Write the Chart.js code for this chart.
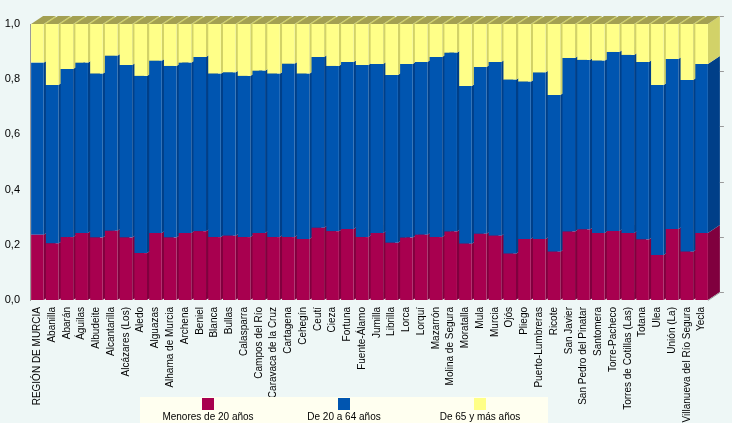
<!DOCTYPE html>
<html>
<head>
<meta charset="utf-8">
<script src="https://cdn.jsdelivr.net/npm/chart.js@4/dist/chart.umd.min.js"></script>
<style>
  html, body { margin: 0; padding: 0; background: #eef7f6; }
  canvas { display: block; }
</style>
</head>
<body>
<canvas id="grafico" width="732" height="423"></canvas>
<script>
// municipios
const municipios = [
  "REGIÓN DE MURCIA", "Abanilla", "Abarán", "Águilas", "Albudeite", "Alcantarilla",
  "Alcázares (Los)", "Aledo", "Alguazas", "Alhama de Murcia", "Archena", "Beniel",
  "Blanca", "Bullas", "Calasparra", "Campos del Río", "Caravaca de la Cruz", "Cartagena",
  "Cehegín", "Ceutí", "Cieza", "Fortuna", "Fuente-Álamo", "Jumilla", "Librilla", "Lorca",
  "Lorquí", "Mazarrón", "Molina de Segura", "Moratalla", "Mula", "Murcia", "Ojós",
  "Pliego", "Puerto-Lumbreras", "Ricote", "San Javier", "San Pedro del Pinatar",
  "Santomera", "Torre-Pacheco", "Torres de Cotillas (Las)", "Totana", "Ulea",
  "Unión (La)", "Villanueva del Río Segura", "Yecla"
];

// proporciones por grupo de edad
const menores20 = [
  0.236, 0.205, 0.228, 0.243, 0.226, 0.251, 0.226, 0.170, 0.243, 0.226, 0.243, 0.249,
  0.228, 0.233, 0.228, 0.243, 0.228, 0.228, 0.221, 0.262, 0.249, 0.257, 0.228, 0.243,
  0.207, 0.226, 0.236, 0.228, 0.248, 0.204, 0.240, 0.233, 0.168, 0.221, 0.221, 0.175,
  0.248, 0.255, 0.243, 0.250, 0.243, 0.219, 0.163, 0.257, 0.175, 0.243
];
const de20a64 = [
  0.624, 0.574, 0.609, 0.617, 0.594, 0.634, 0.625, 0.642, 0.624, 0.622, 0.617, 0.631,
  0.592, 0.591, 0.584, 0.588, 0.592, 0.628, 0.599, 0.618, 0.599, 0.605, 0.623, 0.612,
  0.608, 0.629, 0.626, 0.652, 0.648, 0.571, 0.604, 0.629, 0.630, 0.570, 0.603, 0.568,
  0.629, 0.615, 0.624, 0.649, 0.645, 0.643, 0.616, 0.616, 0.622, 0.612
];
const de65 = [
  0.140, 0.221, 0.163, 0.140, 0.180, 0.115, 0.149, 0.188, 0.133, 0.152, 0.140, 0.120,
  0.180, 0.176, 0.188, 0.169, 0.180, 0.144, 0.180, 0.120, 0.152, 0.138, 0.149, 0.145,
  0.185, 0.145, 0.138, 0.120, 0.104, 0.225, 0.156, 0.138, 0.202, 0.209, 0.176, 0.257,
  0.123, 0.130, 0.133, 0.101, 0.112, 0.138, 0.221, 0.127, 0.203, 0.145
];
const yTicks = [0, 0.2, 0.4, 0.6, 0.8, 1.0];

const colores = ["#a8004f", "#0055b0", "#ffff88"];
const coloresLado = ["#80003e", "#003f88", "#d2d268"];
const colorTapa = "#a3a052";
const PROF_X = 12, PROF_Y = 8;

// caras laterales y superiores (efecto 3D)
const barras3d = {
  id: "barras3d",
  beforeDatasetsDraw(chart) {
    const ctx = chart.ctx;
    const n = chart.data.datasets.length;
    const metas = [];
    for (let k = 0; k < n; k++) metas.push(chart.getDatasetMeta(k));
    ctx.save();
    for (let i = 0; i < chart.data.labels.length; i++) {
      for (let k = 0; k < n; k++) {
        const el = metas[k].data[i];
        const p = el.getProps(["x", "y", "base", "width"], true);
        const l = p.x - p.width / 2, r = p.x + p.width / 2;
        ctx.fillStyle = coloresLado[k];
        ctx.beginPath();
        ctx.moveTo(r, p.y);
        ctx.lineTo(r + PROF_X, p.y - PROF_Y);
        ctx.lineTo(r + PROF_X, p.base - PROF_Y);
        ctx.lineTo(r, p.base);
        ctx.closePath();
        ctx.fill();
        if (k == n - 1) {
          ctx.fillStyle = colorTapa;
          ctx.beginPath();
          ctx.moveTo(l, p.y);
          ctx.lineTo(l + PROF_X, p.y - PROF_Y);
          ctx.lineTo(r + PROF_X, p.y - PROF_Y);
          ctx.lineTo(r, p.y);
          ctx.closePath();
          ctx.fill();
        }
      }
    }
    ctx.restore();
  },
  afterDatasetsDraw(chart) {
    const ctx = chart.ctx;
    const ya = chart.scales.y;
    const last = chart.getDatasetMeta(0).data[chart.data.labels.length - 1];
    const r = last.x + last.width / 2;
    ctx.save();
    ctx.strokeStyle = "#9a9a9a";
    ctx.lineWidth = 1;
    // suelo
    ctx.beginPath();
    ctx.moveTo(r, ya.bottom + 0.5);
    ctx.lineTo(r + PROF_X, ya.bottom - PROF_Y + 0.5);
    ctx.stroke();
    // marcas de la pared del fondo
    yTicks.forEach(v => {
      const yy = Math.round(ya.getPixelForValue(v) - PROF_Y) + 0.5;
      ctx.beginPath();
      ctx.moveTo(r + PROF_X, yy);
      ctx.lineTo(r + PROF_X + 4, yy);
      ctx.stroke();
    });
    ctx.restore();
  }
};

// leyenda: cuadro encima del texto
const leyenda = {
  id: "leyenda",
  afterDraw(chart) {
    const ctx = chart.ctx;
    const x0 = 140, y0 = 397, w = 408, h = 30;
    ctx.save();
    ctx.fillStyle = "#fffff0";
    ctx.fillRect(x0, y0, w, h);
    ctx.font = "10px 'Liberation Sans', Arial, sans-serif";
    ctx.textAlign = "center";
    ctx.textBaseline = "alphabetic";
    chart.data.datasets.forEach((ds, k) => {
      const cx = x0 + 68 + k * 136;
      ctx.fillStyle = ds.backgroundColor;
      ctx.fillRect(cx - 6, y0 + 1, 12, 12);
      ctx.fillStyle = "#000";
      ctx.fillText(ds.label, cx, y0 + 23);
    });
    ctx.restore();
  }
};

const ctx = document.getElementById("grafico").getContext("2d");
new Chart(ctx, {
  type: "bar",
  data: {
    labels: municipios,
    datasets: [
      { label: "Menores de 20 años", data: menores20, backgroundColor: colores[0] },
      { label: "De 20 a 64 años", data: de20a64, backgroundColor: colores[1] },
      { label: "De 65 y más años", data: de65, backgroundColor: colores[2] }
    ]
  },
  options: {
    responsive: false,
    animation: false,
    devicePixelRatio: 1,
    layout: { padding: { top: 24, right: 23, left: 0, bottom: 0 } },
    datasets: { bar: { barPercentage: 0.85, categoryPercentage: 1.0, borderWidth: 0 } },
    plugins: {
      legend: { display: false },
      tooltip: { enabled: false }
    },
    scales: {
      x: {
        stacked: true,
        grid: { display: false, drawTicks: false },
        border: { display: false },
        ticks: {
          autoSkip: false,
          maxRotation: 90,
          minRotation: 90,
          padding: 7,
          color: "#000",
          font: { family: "'Liberation Sans', Arial, sans-serif", size: 10 }
        },
        afterFit(axis) { axis.height = 123; }
      },
      y: {
        stacked: true,
        min: 0,
        max: 1,
        grid: { display: false, drawTicks: false },
        border: { display: true, color: "#9a9a9a" },
        afterBuildTicks(axis) { axis.ticks = yTicks.map(v => ({ value: v })); },
        ticks: {
          padding: 10,
          color: "#000",
          font: { family: "'Liberation Sans', Arial, sans-serif", size: 11 },
          callback: v => v.toFixed(1).replace(".", ",")
        },
        afterFit(axis) { axis.width = 30; }
      }
    }
  },
  plugins: [barras3d, leyenda]
});
</script>
</body>
</html>
